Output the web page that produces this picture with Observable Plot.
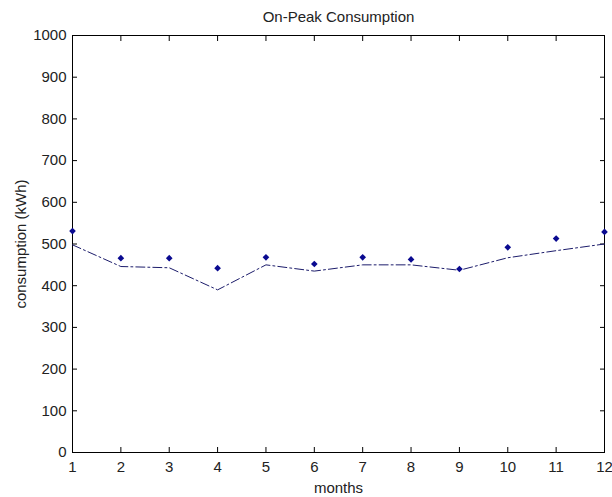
<!DOCTYPE html>
<html>
<head>
<meta charset="utf-8">
<script src="https://cdn.jsdelivr.net/npm/d3@7"></script>
<script src="https://cdn.jsdelivr.net/npm/@observablehq/plot@0.6"></script>
<style>
  body { margin: 0; background: #fff; }
  svg { font-family: "Liberation Sans", Arial, sans-serif; }
</style>
</head>
<body>
<div id="chart"></div>
<script>
const months = [1, 2, 3, 4, 5, 6, 7, 8, 9, 10, 11, 12];
const measured = [531, 466, 466, 442, 468, 452, 468, 463, 440, 492, 513, 529];
const fitted = [498, 446, 443, 390, 450, 435, 450, 450, 437, 467, 484, 500];
const xTicks = [1, 2, 3, 4, 5, 6, 7, 8, 9, 10, 11, 12];
const yTicks = [0, 100, 200, 300, 400, 500, 600, 700, 800, 900, 1000];
const title = "On-Peak Consumption";

const pts = months.map((m, i) => ({month: m, value: measured[i]}));
const line = months.map((m, i) => ({month: m, value: fitted[i]}));
const fmt = d3.format("d");

const chart = Plot.plot({
  width: 612,
  height: 497,
  marginLeft: 72,
  marginRight: 8,
  marginTop: 35,
  marginBottom: 45,
  style: {fontFamily: "'Liberation Sans', Arial, sans-serif", fontSize: "15px", color: "#222", background: "#fff"},
  x: {domain: [1, 12]},
  y: {domain: [0, 1000]},
  marks: [
    Plot.frame({stroke: "#000"}),
    Plot.axisX(xTicks, {anchor: "bottom", tickSize: -5, tickPadding: 14, tickFormat: fmt, label: "months", labelAnchor: "center", labelOffset: 40, labelArrow: "none", fontSize: 15, stroke: "#000"}),
    Plot.axisX(xTicks, {anchor: "top", tickSize: -5, tickFormat: () => "", label: null, stroke: "#000"}),
    Plot.axisY(yTicks, {anchor: "left", tickSize: -5, tickPadding: 11, tickFormat: fmt, label: "consumption (kWh)", labelAnchor: "center", labelOffset: 57, labelArrow: "none", fontSize: 15, stroke: "#000"}),
    Plot.axisY(yTicks, {anchor: "right", tickSize: -5, tickFormat: () => "", label: null, stroke: "#000"}),
    Plot.line(line, {x: "month", y: "value", stroke: "#1c1c6b", strokeWidth: 1, strokeDasharray: "9,3,2,3"}),
    Plot.dot(pts, {x: "month", y: "value", r: 3, fill: "#0a0a90", stroke: "none", symbol: "diamond2"}),
    Plot.text([title], {frameAnchor: "top", dy: -24, fontSize: 15, fill: "#222"})
  ]
});
document.getElementById("chart").appendChild(chart);
</script>
</body>
</html>
